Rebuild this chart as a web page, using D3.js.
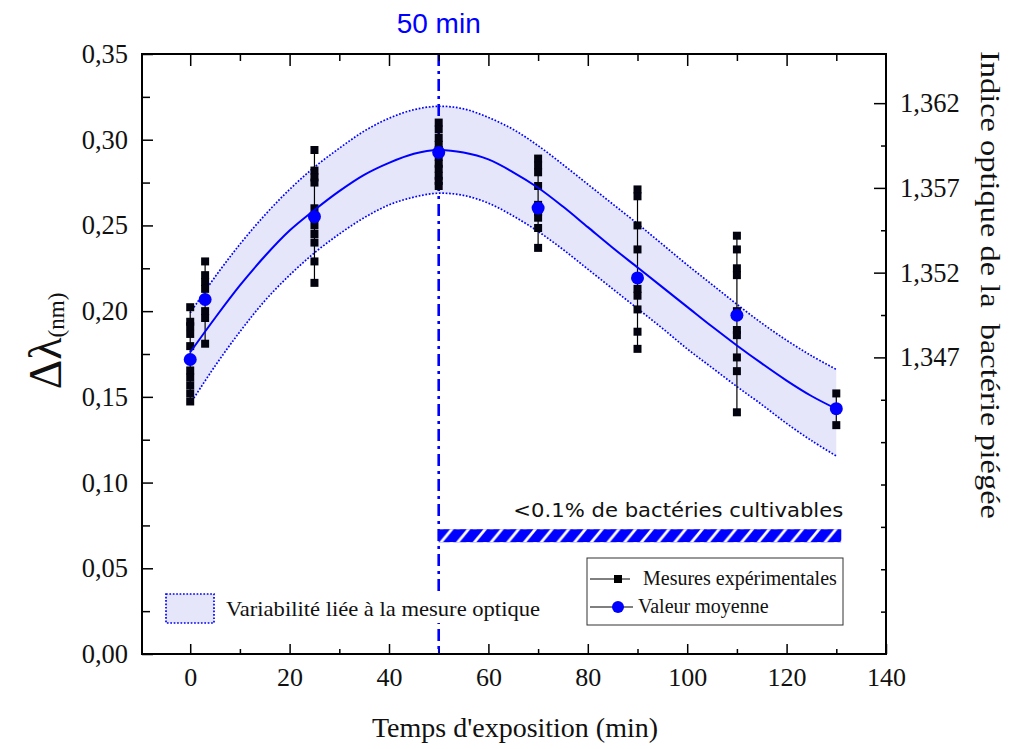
<!DOCTYPE html>
<html><head><meta charset="utf-8">
<script src="https://cdn.jsdelivr.net/npm/d3@7"></script>
<style>body{margin:0;background:#fff}svg text{font-family:"Liberation Serif",serif}</style></head>
<body><svg id="c" width="1019" height="749"></svg>
<script>
// ---------- data ----------
const times = [0, 3, 25, 50, 70, 90, 110, 130];
const measures = [
  [0.2023, 0.1938, 0.1912, 0.1867, 0.1796, 0.1654, 0.1613, 0.1567, 0.1520, 0.1473],
  [0.229, 0.221, 0.217, 0.213, 0.207, 0.200, 0.196, 0.181],
  [0.294, 0.282, 0.278, 0.275, 0.260, 0.255, 0.250, 0.245, 0.240, 0.229, 0.2165],
  [0.310, 0.306, 0.301, 0.297, 0.294, 0.290, 0.286, 0.283, 0.279, 0.276, 0.273],
  [0.289, 0.285, 0.281, 0.273, 0.262, 0.258, 0.2545, 0.2485, 0.2369],
  [0.271, 0.267, 0.250, 0.236, 0.213, 0.209, 0.201, 0.188, 0.178],
  [0.244, 0.236, 0.225, 0.221, 0.200, 0.189, 0.186, 0.173, 0.165, 0.141],
  [0.152, 0.1335]
];
const means = [0.1718, 0.2068, 0.2551, 0.2926, 0.2601, 0.2194, 0.1976, 0.1431];
const fitX  = [0,5,10,15,20,25,30,35,40,45,50,55,60,65,70,75,80,85,90,95,100,105,110,115,120,125,130];
const fitY  = [0.176,0.196,0.215,0.232,0.247,0.259,0.270,0.2795,0.2865,0.2918,0.294,0.2925,0.2885,0.281,0.272,0.261,0.249,0.237,0.2255,0.214,0.2025,0.191,0.180,0.1695,0.1595,0.1505,0.143];
const upperY = [0.199,0.220,0.239,0.256,0.271,0.284,0.295,0.305,0.3125,0.3175,0.3195,0.318,0.313,0.306,0.2965,0.2855,0.274,0.2625,0.251,0.239,0.227,0.2155,0.204,0.193,0.183,0.174,0.166];
const lowerY = [0.146,0.168,0.188,0.206,0.221,0.234,0.245,0.2545,0.262,0.2665,0.2688,0.2675,0.263,0.2555,0.2465,0.236,0.2245,0.213,0.2015,0.190,0.178,0.167,0.156,0.1455,0.1345,0.1245,0.1155];
const markerTime = 50;
const hatchRange = [50, 131];
const hatchBand = [0.0652, 0.0728];
const xMajorTicks = [0,20,40,60,80,100,120,140];
const xMinorTicks = [10,30,50,70,90,110,130];
const yMajorTicks = [0,0.05,0.10,0.15,0.20,0.25,0.30,0.35];
const yMinorTicks = [0.025,0.075,0.125,0.175,0.225,0.275,0.325];
const rMajorTicks = [1.347,1.352,1.357,1.362];
const rMinorTicks = [1.332,1.3345,1.337,1.3395,1.342,1.3445,1.3495,1.3545,1.3595];

// ---------- scales ----------
const svg = d3.select("#c");
const x = d3.scaleLinear().domain([-9.7, 140]).range([142, 886]);
const y = d3.scaleLinear().domain([0, 0.35]).range([654, 54]);
const yR = d3.scaleLinear().domain([1.3295, 1.3649]).range([654, 54]);
const BLUE = "#0000ff";
const curve = d3.curveCatmullRom;

// hatch pattern
const ph = y(hatchBand[0]) - y(hatchBand[1]);
const pat = svg.append("defs").append("pattern").attr("id","hatch").attr("patternUnits","userSpaceOnUse")
  .attr("width",16.7).attr("height",ph).attr("x",x(hatchRange[0])).attr("y",y(hatchBand[1]));
pat.append("rect").attr("width",16.7).attr("height",ph).attr("fill",BLUE);
pat.append("line").attr("x1",1.5).attr("y1",ph+1).attr("x2",14).attr("y2",-1)
  .attr("stroke","#fff").attr("stroke-width",2.8);

// band
const band = fitX.map((t,i)=>({t, hi:upperY[i], lo:lowerY[i], f:fitY[i]}));
svg.append("path").datum(band)
  .attr("d", d3.area().x(d=>x(d.t)).y0(d=>y(d.lo)).y1(d=>y(d.hi)).curve(curve))
  .attr("fill","#e6e6fb");
["hi","lo"].forEach(k=>{
  svg.append("path").datum(band)
    .attr("d", d3.line().x(d=>x(d.t)).y(d=>y(d[k])).curve(curve))
    .attr("fill","none").attr("stroke",BLUE).attr("stroke-width",1.7).attr("stroke-dasharray","1.7,1.7");
});

// vertical marker
svg.append("line").attr("x1",x(markerTime)).attr("x2",x(markerTime)).attr("y1",y(0.35)).attr("y2",y(0))
  .attr("stroke",BLUE).attr("stroke-width",2.6).attr("stroke-dasharray","12,5,3,5");

// hatched bar + label
svg.append("rect").attr("x",x(hatchRange[0])).attr("width",x(hatchRange[1])-x(hatchRange[0]))
  .attr("y",y(hatchBand[1])).attr("height",ph).attr("fill","url(#hatch)");
svg.append("text").attr("x",x(hatchRange[1])+2).attr("y",517).attr("text-anchor","end")
  .style("font-family","'DejaVu Sans',sans-serif").style("font-size","19px").attr("fill","#111")
  .attr("textLength",330).attr("lengthAdjust","spacingAndGlyphs")
  .text("<0.1% de bactéries cultivables");

// error bars + squares
times.forEach((t,i)=>{
  const ext = d3.extent(measures[i].concat([means[i]]));
  svg.append("line").attr("x1",x(t)).attr("x2",x(t)).attr("y1",y(ext[0])).attr("y2",y(ext[1]))
    .attr("stroke","#000").attr("stroke-width",1.2);
  svg.selectAll(null).data(measures[i]).enter().append("rect")
    .attr("x",x(t)-4).attr("y",d=>y(d)-4).attr("width",8).attr("height",8).attr("fill","#03030f");
});

// fit line
svg.append("path").datum(band)
  .attr("d", d3.line().x(d=>x(d.t)).y(d=>y(d.f)).curve(curve))
  .attr("fill","none").attr("stroke",BLUE).attr("stroke-width",2);

// means
svg.selectAll(null).data(times).enter().append("circle")
  .attr("cx",d=>x(d)).attr("cy",(d,i)=>y(means[i])).attr("r",6.5).attr("fill",BLUE);

// ---------- axes ----------
const comma = f => d => d3.format(f)(d).replace(".",",");
function styleAxis(g){ g.select(".domain").remove(); g.selectAll("line").attr("stroke","#000").attr("stroke-width",1.5); }
const lbl = sz => g => g.selectAll("text").style("font-size",sz).style("font-family","'Liberation Serif',serif").attr("fill","#111");
svg.append("g").attr("transform","translate(0,654)")
  .call(d3.axisBottom(x).tickValues(xMajorTicks).tickSize(-10).tickPadding(14).tickFormat(d3.format("d")))
  .call(styleAxis).call(lbl("26px"));
svg.append("g").attr("transform","translate(0,654)")
  .call(d3.axisBottom(x).tickValues(xMinorTicks).tickSize(-5).tickFormat("")).call(styleAxis);
svg.append("g").attr("transform","translate(0,54)")
  .call(d3.axisTop(x).tickValues(xMajorTicks.slice(0,-1)).tickSize(-12).tickFormat("")).call(styleAxis);
svg.append("g").attr("transform","translate(0,54)")
  .call(d3.axisTop(x).tickValues(xMinorTicks).tickSize(-7).tickFormat("")).call(styleAxis);
svg.append("g").attr("transform","translate(142,0)")
  .call(d3.axisLeft(y).tickValues(yMajorTicks).tickSize(-11).tickPadding(14).tickFormat(comma(".2f")))
  .call(styleAxis).call(lbl("26.5px"));
svg.append("g").attr("transform","translate(142,0)")
  .call(d3.axisLeft(y).tickValues(yMinorTicks).tickSize(-8).tickFormat("")).call(styleAxis);
svg.append("g").attr("transform","translate(886,0)")
  .call(d3.axisRight(yR).tickValues(rMajorTicks).tickSize(-12).tickPadding(14).tickFormat(comma(".3f")))
  .call(styleAxis).call(lbl("26.5px"));
svg.append("g").attr("transform","translate(886,0)")
  .call(d3.axisRight(yR).tickValues(rMinorTicks).tickSize(-5).tickFormat("")).call(styleAxis);
svg.append("line").attr("x1",x(markerTime)).attr("x2",x(markerTime)).attr("y1",654).attr("y2",648).attr("stroke",BLUE).attr("stroke-width",1.5);

// frame
svg.append("rect").attr("x",142).attr("y",54).attr("width",886-142).attr("height",654-54)
  .attr("fill","none").attr("stroke","#000").attr("stroke-width",2);

// ---------- titles ----------
svg.append("text").attr("x",x(markerTime)).attr("y",33).attr("text-anchor","middle")
  .style("font-family","'Liberation Sans',Arial,sans-serif").style("font-size","28px").attr("fill",BLUE).text("50 min");
svg.append("text").attr("x",515).attr("y",737).attr("text-anchor","middle")
  .style("font-size","28px").attr("fill","#111").text("Temps d'exposition (min)");
const yt = svg.append("text").attr("transform","translate(61,341) rotate(-90)").attr("text-anchor","middle").attr("fill","#111");
yt.append("tspan").style("font-size","46px").text("Δλ");
yt.append("tspan").style("font-size","23px").attr("dy",3).text("(nm)");
svg.append("text").attr("transform","translate(981,285) rotate(90)").attr("text-anchor","middle")
  .style("font-size","28px").style("white-space","pre").attr("fill","#111")
  .attr("textLength",468).attr("lengthAdjust","spacingAndGlyphs")
  .text("Indice optique de la  bactérie piégée");

// ---------- legends ----------
svg.append("rect").attr("x",222).attr("y",596).attr("width",322).attr("height",27).attr("fill","#fff");
svg.append("rect").attr("x",166).attr("y",594).attr("width",48).attr("height",29)
  .attr("fill","#e6e6fb").attr("stroke",BLUE).attr("stroke-width",1.7).attr("stroke-dasharray","1.7,1.7");
svg.append("text").attr("x",226).attr("y",616).style("font-size","21px").attr("fill","#111")
  .attr("textLength",314).attr("lengthAdjust","spacingAndGlyphs").text("Variabilité liée à la mesure optique");

svg.append("rect").attr("x",587).attr("y",558).attr("width",256).attr("height",67)
  .attr("fill","#fff").attr("stroke","#333").attr("stroke-width",1);
svg.append("line").attr("x1",590).attr("x2",630).attr("y1",579).attr("y2",579).attr("stroke","#000").attr("stroke-width",1);
svg.append("rect").attr("x",614).attr("y",575).attr("width",8).attr("height",8).attr("fill","#000");
svg.append("text").attr("x",643).attr("y",585).style("font-size","20px").attr("fill","#111").text("Mesures expérimentales");
svg.append("line").attr("x1",590).attr("x2",633).attr("y1",607).attr("y2",607).attr("stroke","#000").attr("stroke-width",1);
svg.append("circle").attr("cx",618).attr("cy",607).attr("r",6).attr("fill",BLUE);
svg.append("text").attr("x",638).attr("y",613).style("font-size","20px").attr("fill","#111").text("Valeur moyenne");
</script></body></html>
